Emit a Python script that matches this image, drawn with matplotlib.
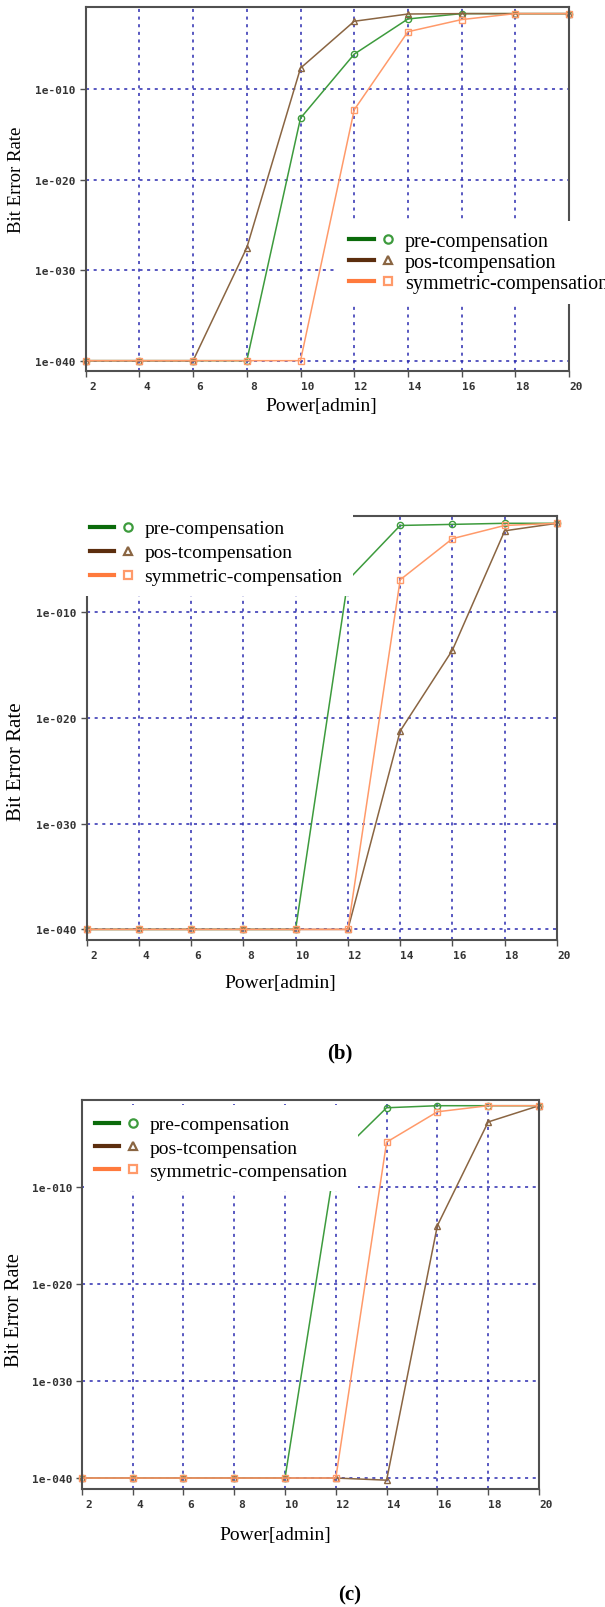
import numpy as np
import matplotlib
matplotlib.use("Agg")
import matplotlib.pyplot as plt
from matplotlib.lines import Line2D
from matplotlib.legend_handler import HandlerTuple
from matplotlib.ticker import FixedLocator, NullLocator
from matplotlib.transforms import ScaledTranslation

W, H = 605, 1608

power = [2, 4, 6, 8, 10, 12, 14, 16, 18, 20]
series_names = ["pre-compensation", "pos-tcompensation", "symmetric-compensation"]

# panel (a)
a_pre = [1e-40, 1e-40, 1e-40, 1e-40, 6e-14, 7e-7, 5.4e-3, 2.1e-2, 2.1e-2, 2.1e-2]
a_post = [1e-40, 1e-40, 1e-40, 3e-28, 2e-8, 3e-3, 1.9e-2, 2.1e-2, 2.1e-2, 2.1e-2]
a_sym = [1e-40, 1e-40, 1e-40, 1e-40, 1e-40, 5e-13, 2.1e-4, 4.6e-3, 2.1e-2, 2.1e-2]
# panel (b)
b_pre = [1e-40, 1e-40, 1e-40, 1e-40, 1e-40, 1e-7, 1.5e-2, 1.9e-2, 2.4e-2, 2.4e-2]
b_post = [1e-40, 1e-40, 1e-40, 1e-40, 1e-40, 1e-40, 5.6e-22, 2.5e-14, 4.7e-3, 2.4e-2]
b_sym = [1e-40, 1e-40, 1e-40, 1e-40, 1e-40, 1e-40, 1.1e-7, 8.5e-4, 1.5e-2, 2.4e-2]
# panel (c)
c_pre = [1e-40, 1e-40, 1e-40, 1e-40, 1e-40, 1e-7, 1.35e-2, 2.2e-2, 2.2e-2, 2.2e-2]
c_post = [1e-40, 1e-40, 1e-40, 1e-40, 1e-40, 1e-40, 6e-41, 1e-14, 4.7e-4, 2.2e-2]
c_sym = [1e-40, 1e-40, 1e-40, 1e-40, 1e-40, 1e-40, 3.9e-6, 5.2e-3, 2.2e-2, 2.2e-2]

ytick_vals = [1e-40, 1e-30, 1e-20, 1e-10]
ytick_labels = ["1e-040", "1e-030", "1e-020", "1e-010"]

line_cols = ["#3d9b3d", "#8a6542", "#ff9a6a"]
leg_cols = ["#0b6b0b", "#5c2e0e", "#ff7a3d"]
markers = ["o", "^", "s"]

fig = plt.figure(figsize=(W / 100, H / 100), dpi=100)


def draw_panel(left, right, top, bottom, data, ylim, leg_xy, leg_z, leg_fs, leg_sp,
               ylab_xy, ylab_fs, xlab_xy):
    ax = fig.add_axes([left / W, 1 - bottom / H, (right - left) / W, (bottom - top) / H])
    for vals, c, m in zip(data, line_cols, markers):
        ax.semilogy(power, vals, color=c, lw=1.1, marker=m, ms=4.5, mfc="none",
                    mec=c, mew=1.0, clip_on=False, zorder=2)
    ax.set_xlim(2, 20)
    ax.set_ylim(*ylim)
    ax.set_xticks(power)
    ax.set_xticklabels([str(p) for p in power])
    ax.yaxis.set_major_locator(FixedLocator(ytick_vals))
    ax.yaxis.set_minor_locator(NullLocator())
    ax.set_yticklabels(ytick_labels)
    ax.grid(True, color="#2b2bb0", linestyle=(0, (2, 3)), lw=1.1)
    for s in ax.spines.values():
        s.set_color("#505050")
        s.set_linewidth(1.5)
    ax.tick_params(direction="out", length=4, width=1, color="#505050", pad=3)
    for lab in ax.get_xticklabels() + ax.get_yticklabels():
        lab.set_fontfamily("DejaVu Sans Mono")
        lab.set_fontweight("bold")
        lab.set_fontsize(8)
        lab.set_color("#333333")
    off = ScaledTranslation(7 / 100, 0, fig.dpi_scale_trans)
    for lab in ax.get_xticklabels():
        lab.set_transform(lab.get_transform() + off)

    handles = []
    for lc, mc, m in zip(leg_cols, line_cols, markers):
        h_line = Line2D([], [], color=lc, lw=3)
        h_mark = Line2D([], [], ls="none", marker=m, ms=6, mfc="none", mec=mc, mew=1.6)
        handles.append((h_line, h_mark))
    leg = ax.legend(handles, series_names, loc="upper left",
                    bbox_to_anchor=(leg_xy[0] / W, 1 - leg_xy[1] / H),
                    bbox_transform=fig.transFigure, borderaxespad=0,
                    handler_map={tuple: HandlerTuple(ndivide=None, pad=0.05)},
                    handlelength=2.6, handletextpad=0.2, labelspacing=leg_sp,
                    borderpad=0.55, frameon=True, fancybox=False,
                    prop={"family": "Liberation Serif", "size": leg_fs})
    leg.get_frame().set_facecolor("white")
    leg.get_frame().set_edgecolor("none")
    leg.get_frame().set_alpha(1)
    leg.set_zorder(leg_z)

    fig.text(ylab_xy[0] / W, 1 - ylab_xy[1] / H, "Bit Error Rate", rotation=90,
             ha="center", va="center", family="Liberation Serif", fontsize=ylab_fs)
    fig.text(xlab_xy[0] / W, 1 - xlab_xy[1] / H, "Power[admin]",
             ha="center", va="center", family="Liberation Serif", fontsize=14)
    return ax


draw_panel(85.7, 569, 8.3, 372, [a_pre, a_post, a_sym], (10 ** -41.14, 10 ** -0.98),
           (337.5, 222), 5, 14.5, 0.085, (17, 180), 13.5, (321, 406))
draw_panel(86.5, 557, 517, 941, [b_pre, b_post, b_sym], (10 ** -41.0, 10 ** -0.93),
           (79, 510), 5, 14, 0.33, (17, 762), 15, (280, 984))
draw_panel(81.8, 539, 1101, 1490, [c_pre, c_post, c_sym], (10 ** -41.13, 10 ** -1.07),
           (84, 1106), 2.3, 14, 0.295, (15, 1310), 14.5, (275, 1536))

fig.text(340 / W, 1 - 1053 / H, "(b)", ha="center", va="center",
         family="Liberation Serif", fontweight="bold", fontsize=15)
fig.text(350 / W, 1 - 1595 / H, "(c)", ha="center", va="center",
         family="Liberation Serif", fontweight="bold", fontsize=15)

fig.savefig("out.png", dpi=100)
